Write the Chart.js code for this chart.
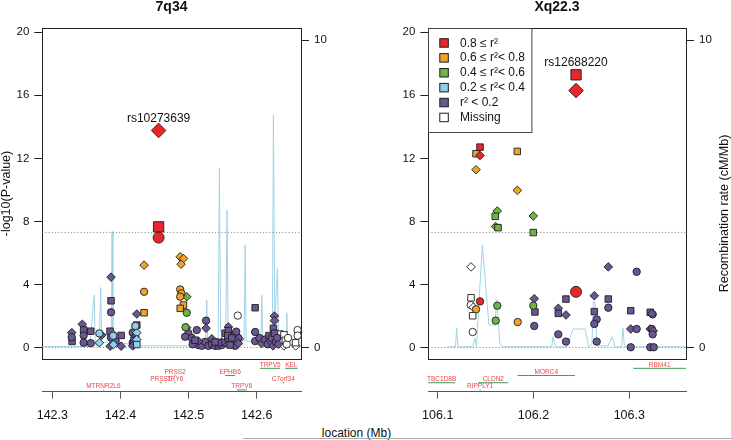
<!DOCTYPE html>
<html>
<head>
<meta charset="utf-8">
<script src="https://cdn.jsdelivr.net/npm/chart.js@4.4.1/dist/chart.umd.min.js"></script>
<style>
  html, body { margin: 0; padding: 0; background: #fff; }
  #wrap { position: relative; width: 731px; height: 440px; overflow: hidden;
    font-family: "Liberation Sans", Arial, sans-serif; }
  #cL { position: absolute; left: 0; top: 0; }
  #cR { position: absolute; left: 383px; top: 0; }
  #xlab { position: absolute; left: 296px; width: 121px; top: 426px; text-align: center;
    font-size: 12px; line-height: 14px; color: #111; }
  #rule { position: absolute; left: 243px; right: 0; top: 438px; height: 1px; background: #aaa; }
</style>
</head>
<body>
<div id="wrap">
  <canvas id="cL" width="343" height="425"></canvas>
  <canvas id="cR" width="348" height="425"></canvas>
  <div id="xlab">location (Mb)</div>
  <div id="rule"></div>
</div>
<script>
// LD classes: 0 missing, 1 r2<0.2, 2 0.2-0.4, 3 0.4-0.6, 4 0.6-0.8, 5 >=0.8
// shapes: c circle, s square, d diamond

// ---- 7q34 --------------------------------------------------------------
var L_X = [
  142.3285, 142.3290, 142.3285, 142.3440, 142.3460, 142.3460, 142.3460, 142.3564, 142.3564, 142.3690, 142.3690, 142.3725,
  142.3847, 142.3860, 142.3896, 142.3850, 142.3896, 142.4010, 142.4010, 142.3862, 142.3862, 142.3862, 142.3893, 142.3930,
  142.4180, 142.4180, 142.4240, 142.4240, 142.4240, 142.4220, 142.4240, 142.4240, 142.4200, 142.4220, 142.4180,
  142.4347, 142.4347, 142.4347, 142.4877, 142.4925, 142.4890, 142.4877, 142.4895, 142.4877, 142.4973, 142.4925, 142.4877, 142.4973, 142.4955, 142.4970,
  142.4997, 142.5047, 142.5095, 142.5144, 142.5194, 142.5060, 142.5242, 142.5291, 142.5341, 142.5389, 142.5438, 142.5487, 142.5536, 142.5584, 142.5634, 142.5683, 142.5731, 142.5257, 142.4949, 142.5120,
  142.5257, 142.5144, 142.5341, 142.5487, 142.5584, 142.5634, 142.5683, 142.5731, 142.5536, 142.5584, 142.5575, 142.5634, 142.5438, 142.5095, 142.5389, 142.5610, 142.5700,
  142.5722, 142.5745,
  142.5977, 142.5977, 142.5977, 142.6040, 142.6070, 142.6120, 142.6160, 142.6180, 142.6200, 142.6220, 142.6260, 142.6260, 142.6245, 142.6260, 142.6240, 142.6280, 142.6300, 142.6320,
  142.6340, 142.6370, 142.6400, 142.6360, 142.6400, 142.6420, 142.6440, 142.6574, 142.6570, 142.6600, 142.6600, 142.6460
];
var L_P = [
  0.94, 0.38, 0.65, 1.47, 1.11, 0.76, 0.30, 1.03, 0.27, 0.89, 0.30, 0.78,
  1.03, 0.63, 0.82, 0.08, 0.18, 0.76, 0.08, 4.46, 2.96, 2.23, 0.74, 0.40,
  0.94, 0.30, 2.12, 1.42, 0.94, 0.68, 0.50, 0.18, 0.45, 1.36, 0.10,
  5.22, 3.53, 2.20, 5.75, 5.64, 5.28, 3.68, 3.43, 3.22, 3.22, 2.69, 2.48, 2.20, 1.28, 1.25,
  0.90, 0.60, 0.30, 0.15, 0.10, 0.20, 0.35, 0.10, 0.20, 0.10, 0.10, 0.15, 0.30, 0.50, 0.20, 0.10, 0.60, 1.70, 0.68, 1.10,
  1.22, 0.40, 0.55, 0.35, 1.30, 0.80, 0.45, 0.25, 0.90, 1.05, 0.75, 0.60, 0.30, 0.45, 0.35, 0.15, 1.00,
  2.02, 0.55,
  2.52, 0.98, 0.40, 0.60, 0.25, 0.50, 0.20, 0.75, 0.40, 0.60, 1.99, 1.70, 1.21, 0.90, 0.10, 0.35, 0.60, 0.20,
  0.85, 0.55, 0.80, 0.30, 0.10, 0.45, 0.20, 0.10, 0.30, 1.10, 0.75, 0.60
];
var L_LD = [
  1, 1, 1, 1, 1, 1, 1, 1, 1, 2, 2, 1,
  1, 1, 2, 1, 2, 1, 1, 1, 1, 1, 2, 1,
  1, 1, 1, 1, 2, 1, 2, 2, 1, 2, 1,
  4, 4, 4, 4, 4, 4, 4, 4, 4, 3, 4, 4, 3, 3, 1,
  1, 1, 1, 1, 1, 1, 1, 1, 1, 1, 1, 1, 1, 1, 1, 1, 1, 1, 1, 1,
  1, 1, 1, 1, 1, 1, 1, 1, 1, 1, 1, 1, 1, 1, 1, 1, 1,
  0, 0,
  1, 1, 1, 1, 1, 1, 1, 1, 1, 1, 1, 1, 1, 1, 1, 1, 1, 1,
  0, 0, 0, 0, 0, 0, 0, 0, 0, 0, 0, 0
];
var L_SHAPE = [
  "d", "s", "c", "d", "s", "c", "c", "s", "c", "c", "d", "d",
  "s", "c", "d", "d", "d", "s", "d", "d", "s", "c", "c", "c",
  "c", "c", "d", "s", "d", "c", "d", "s", "s", "c", "d",
  "d", "c", "s", "d", "d", "d", "c", "c", "c", "d", "s", "s", "c", "c", "d",
  "c", "c", "c", "c", "c", "c", "c", "c", "c", "c", "c", "c", "c", "c", "c", "c", "c", "c", "c", "c",
  "d", "d", "d", "d", "d", "d", "d", "d", "s", "s", "s", "s", "s", "s", "s", "s", "c",
  "c", "d",
  "s", "c", "c", "c", "d", "c", "c", "s", "d", "c", "d", "d", "s", "s", "d", "c", "c", "d",
  "s", "s", "s", "d", "d", "s", "c", "d", "s", "c", "c", "c"
];
var L_LEAD_X = [142.456, 142.456, 142.456];
var L_LEAD_P = [13.77, 7.65, 6.97];
var L_LEAD_SHAPE = ["d", "s", "c"];
var L_LEAD_NAME = "rs10273639";
var L_REC_X = [142.2853, 142.3550, 142.3615, 142.3630, 142.3690, 142.3710, 142.3725, 142.3865, 142.3877, 142.3890,
  142.4140, 142.4160, 142.4180, 142.5250, 142.5267, 142.5280, 142.5435, 142.5452, 142.5470, 142.5545,
  142.5565, 142.5580, 142.5815, 142.5830, 142.5845, 142.6060, 142.6075, 142.6090, 142.6230, 142.6245,
  142.6265, 142.6304, 142.6320, 142.6432, 142.6442, 142.6455, 142.6650];
var L_REC_R = [0.03, 0.03, 1.71, 0.05, 0.10, 1.95, 0.15, 0.20, 3.77, 0.20,
  0.10, 0.80, 0.05, 0.05, 1.54, 0.10, 0.20, 5.83, 0.50, 0.40,
  4.47, 0.30, 0.20, 3.34, 0.20, 0.20, 1.70, 0.20, 0.40, 7.56,
  0.80, 2.57, 0.30, 0.10, 1.13, 0.10, 0.05];
var L_GENE = ["TRPV5", "KEL", "PRSS2", "EPHB6", "PRSS1", "TRY6", "C7orf34", "MTRNR2L6", "TRPV6"];
var L_GSTART = [142.6050, 142.6417, 142.4795, 142.5536, 142.4580, 142.4795, 142.6375, 142.3743, 142.5708];
var L_GEND = [142.6344, 142.6598, 142.4810, 142.5683, 142.4605, 142.4810, 142.6405, 142.3755, 142.5855];
var L_GROW = [1, 1, 2, 2, 3, 3, 3, 4, 4];
var L_XTICKS = [142.3, 142.4, 142.5, 142.6];

// ---- Xq22.3 ------------------------------------------------------------
var R_X = [
  106.1442, 106.1400, 106.1442, 106.1831, 106.1400, 106.1831, 106.1622, 106.1601, 106.1998, 106.1605, 106.1630, 106.1998,
  106.1348, 106.1348, 106.1442, 106.1345, 106.1400, 106.1365, 106.1365, 106.1622, 106.1605, 106.1835, 106.1998, 106.1372,
  106.2008, 106.2015, 106.2008, 106.2259, 106.2259, 106.2339, 106.2339, 106.2259, 106.2339, 106.2635,
  106.2635, 106.2660, 106.2635, 106.2660, 106.2781, 106.2781, 106.2781, 106.3077, 106.3015, 106.3015,
  106.3077, 106.3015, 106.3219, 106.3244, 106.3235, 106.3219, 106.3235, 106.3250, 106.3244, 106.3219, 106.3255
];
var R_P = [
  12.71, 12.29, 12.18, 12.44, 11.28, 9.97, 8.66, 8.32, 8.34, 7.67, 7.60, 7.29,
  5.11, 3.15, 2.92, 2.69, 2.42, 2.01, 0.98, 2.65, 1.70, 1.61, 2.65, 2.55,
  3.09, 2.25, 1.36, 2.48, 2.16, 2.06, 3.07, 0.83, 0.37, 3.28,
  2.27, 1.78, 1.49, 0.37, 5.11, 3.07, 2.52, 4.80, 2.33, 1.17,
  1.17, 0.01, 2.23, 2.10, 2.15, 1.17, 1.17, 1.05, 0.83, 0.01, 0.01
];
var R_LD = [
  5, 4, 5, 4, 4, 4, 3, 3, 3, 3, 3, 3,
  0, 0, 5, 0, 4, 0, 0, 3, 3, 4, 3, 0,
  1, 1, 1, 1, 1, 1, 1, 1, 1, 1,
  1, 1, 1, 1, 1, 1, 1, 1, 1, 1,
  1, 1, 1, 1, 1, 1, 1, 1, 1, 1, 1
];
var R_SHAPE = [
  "s", "s", "d", "s", "d", "d", "d", "s", "d", "d", "s", "s",
  "d", "s", "c", "c", "c", "s", "c", "c", "c", "c", "c", "d",
  "d", "s", "c", "d", "s", "d", "s", "c", "c", "d",
  "s", "c", "c", "c", "d", "s", "c", "c", "s", "d",
  "c", "c", "s", "c", "d", "d", "c", "d", "c", "c", "c"
];
var R_LEAD_X = [106.2444, 106.2444, 106.2444];
var R_LEAD_P = [17.3, 16.3, 3.53];
var R_LEAD_SHAPE = ["s", "d", "c"];
var R_LEAD_NAME = "rs12688220";
var R_REC_X = [106.1097, 106.1185, 106.1198, 106.1212, 106.1365, 106.1390, 106.1405, 106.1466, 106.1535, 106.1598,
  106.1616, 106.1650, 106.1680, 106.2190, 106.2204, 106.2230, 106.2350, 106.2413, 106.2540, 106.2575,
  106.2610, 106.2625, 106.2642, 106.2660, 106.2780, 106.2820, 106.2850, 106.2920, 106.2934, 106.2950, 106.3592];
var R_REC_R = [0.02, 0.02, 0.63, 0.02, 0.02, 0.30, 0.02, 3.34, 0.73, 0.73,
  1.55, 0.10, 0.02, 0.02, 0.35, 0.02, 0.02, 0.60, 0.60, 0.02,
  0.10, 1.49, 1.49, 0.05, 0.05, 0.35, 0.02, 0.02, 0.63, 0.02, 0.02];
var R_GENE = ["RBM41", "MORC4", "TBC1D8B", "CLDN2", "RIPPLY1"];
var R_GSTART = [106.3042, 106.1835, 106.0880, 106.1424, 106.1436];
var R_GEND = [106.3700, 106.2433, 106.1181, 106.1737, 106.1450];
var R_GROW = [1, 2, 3, 3, 4];
var R_XTICKS = [106.1, 106.2, 106.3];

// ---- shared ------------------------------------------------------------
var LD_COLORS = ["#ffffff", "#6b5593", "#8fd0ea", "#6cb545", "#f0a32b", "#e8262b"];
var LEGEND_LD = [5, 4, 3, 2, 1, 0];
var LEGEND_TEXT = ["0.8 \u2264 r\u00b2", "0.6 \u2264 r\u00b2< 0.8", "0.4 \u2264 r\u00b2< 0.6",
  "0.2 \u2264 r\u00b2< 0.4", "r\u00b2 < 0.2", "Missing"];
var Y_TICKS = [0, 4, 8, 12, 16, 20];
var REC_TICKS = [0, 10];
var SIG_P = 7.3;

var FONT = "'Liberation Sans', Arial, Helvetica, sans-serif";
Chart.defaults.font.family = FONT;
var Y_MIN = -2.81, Y_MAX = 20.29, BOX_BOTTOM = -0.755, REC_SCALE = 1.949;
var STYLE = { c: "circle", s: "rect", d: "rectRot" };
var SIZE = { c: 3.7, s: 4.6, d: 4.3 };
var LEAD_SIZE = { c: 5.5, s: 7.3, d: 7.3 };
var EDGE = "#1e1e1e";

function rowY(row) { return -1.327 - 0.457 * (row - 1); }

function makePanel(id, P) {
  // points sorted so higher-LD classes are drawn on top
  var idx = P.x.map(function (_, i) { return i; })
    .sort(function (a, b) { return (P.ld[a] - P.ld[b]) || (a - b); });
  var snps = {
    data: idx.map(function (i) { return { x: P.x[i], y: P.p[i] }; }),
    pointStyle: idx.map(function (i) { return STYLE[P.shape[i]]; }),
    pointRadius: idx.map(function (i) { return SIZE[P.shape[i]]; }),
    pointBackgroundColor: idx.map(function (i) { return LD_COLORS[P.ld[i]]; }),
    pointBorderColor: EDGE, pointBorderWidth: 0.9, showLine: false, clip: false, order: 1
  };
  var lead = {
    data: P.leadX.map(function (x, i) { return { x: x, y: P.leadP[i] }; }),
    pointStyle: P.leadShape.map(function (s) { return STYLE[s]; }),
    pointRadius: P.leadShape.map(function (s) { return LEAD_SIZE[s]; }),
    pointBackgroundColor: LD_COLORS[5], pointBorderColor: EDGE, pointBorderWidth: 0.9,
    showLine: false, clip: false, order: 0
  };
  function hline(v) {
    return { data: [{ x: P.xmin, y: v }, { x: P.xmax, y: v }], showLine: true,
      borderColor: "#7a7a7a", borderWidth: 1, borderDash: [1, 2.2], pointRadius: 0, order: 3 };
  }
  var rec = {
    data: P.recX.map(function (x, i) { return { x: x, y: P.recR[i] }; }),
    yAxisID: "y2", showLine: true, borderColor: "#a3d3e6", borderWidth: 1,
    pointRadius: 0, order: 4
  };
  var genes = P.gene.map(function (g, i) {
    return { data: [{ x: P.gs[i], y: rowY(P.grow[i]) }, { x: P.ge[i], y: rowY(P.grow[i]) }],
      showLine: true, borderColor: "#3d9a58", borderWidth: 1, pointRadius: 0, order: 2 };
  });

  var deco = {
    id: "deco",
    beforeDatasetsDraw: function (chart) {
      var a = chart.chartArea, ys = chart.scales.y, ctx = chart.ctx;
      var l = Math.round(a.left) + 0.5, r = Math.round(a.right) + 0.5;
      var t = Math.round(a.top) + 0.5, b = Math.round(ys.getPixelForValue(BOX_BOTTOM)) + 0.5;
      ctx.save();
      ctx.strokeStyle = "#222"; ctx.lineWidth = 1;
      ctx.strokeRect(l, t, r - l, b - t);
      ctx.restore();
    },
    afterDatasetsDraw: function (chart) {
      var a = chart.chartArea, xs = chart.scales.x, ys = chart.scales.y, ctx = chart.ctx;
      ctx.save();
      // gene names
      ctx.font = "6.5px " + FONT; ctx.fillStyle = "#e8474a";
      ctx.textAlign = "center"; ctx.textBaseline = "middle";
      P.gene.forEach(function (g, i) {
        var s = Math.max(P.gs[i], P.xmin), e = Math.min(P.ge[i], P.xmax);
        ctx.fillText(g, xs.getPixelForValue((s + e) / 2), ys.getPixelForValue(rowY(P.grow[i])) - 3.4);
      });
      // lead SNP name
      ctx.font = "12px " + FONT; ctx.fillStyle = "#111";
      ctx.fillText(P.leadName, xs.getPixelForValue(P.leadX[0]),
        ys.getPixelForValue(Math.max.apply(null, P.leadP)) - 12);
      // axis titles (bottom-to-top)
      ctx.font = "12.5px " + FONT;
      if (P.leftTitle) {
        ctx.save();
        ctx.translate(6.7, (a.top + ys.getPixelForValue(BOX_BOTTOM)) / 2);
        ctx.rotate(-Math.PI / 2);
        ctx.fillText(P.leftTitle, 0, 0);
        ctx.restore();
      }
      if (P.rightTitle) {
        ctx.save();
        ctx.translate(chart.width - 6.5, (a.top + a.bottom) / 2 + 3.8);
        ctx.rotate(-Math.PI / 2);
        ctx.fillText(P.rightTitle, 0, 0);
        ctx.restore();
      }
      // LD legend
      if (P.legend) {
        var lx = Math.round(a.left) + 0.5, ty = Math.round(a.top) + 0.5;
        ctx.fillStyle = "#fff"; ctx.strokeStyle = "#444"; ctx.lineWidth = 1;
        ctx.fillRect(lx, ty, 103.4, 104);
        ctx.strokeRect(lx, ty, 103.4, 104);
        ctx.font = "12px " + FONT; ctx.textAlign = "left";
        LEGEND_LD.forEach(function (ld, i) {
          var cy = a.top + 15 + 14.9 * i;
          ctx.fillStyle = LD_COLORS[ld]; ctx.strokeStyle = EDGE;
          ctx.fillRect(a.left + 11.5, cy - 4, 8.5, 8.5);
          ctx.strokeRect(a.left + 11.5, cy - 4, 8.5, 8.5);
          ctx.fillStyle = "#111";
          ctx.fillText(LEGEND_TEXT[i], a.left + 31.7, cy + 0.5);
        });
      }
      ctx.restore();
    }
  };

  return new Chart(document.getElementById(id), {
    type: "scatter",
    data: { datasets: [lead, snps, hline(SIG_P), hline(0), rec].concat(genes) },
    options: {
      responsive: false, animation: false, events: [],
      layout: { padding: 0 },
      plugins: {
        legend: { display: false }, tooltip: { enabled: false },
        title: { display: true, text: P.title, color: "#111",
          font: { size: 14, weight: "bold", lineHeight: 1 }, padding: { top: 0, bottom: 13.7 } }
      },
      scales: {
        x: {
          type: "linear", position: "bottom", min: P.xmin, max: P.xmax,
          afterBuildTicks: function (s) { s.ticks = P.xticks.map(function (v) { return { value: v }; }); },
          afterFit: function (s) { s.height = 425 - 391.7; },
          grid: { display: true, drawOnChartArea: false, drawTicks: true, tickLength: 7, color: "#555" },
          border: { display: true, color: "#555", width: 1 },
          ticks: { padding: 9, color: "#111", font: { size: 12.5 }, maxRotation: 0,
            callback: function (v) { return v.toFixed(1); } }
        },
        y: {
          type: "linear", position: "left", min: Y_MIN, max: Y_MAX,
          afterBuildTicks: function (s) { s.ticks = Y_TICKS.map(function (v) { return { value: v }; }); },
          afterFit: function (s) { s.width = P.yw; },
          grid: { display: true, drawOnChartArea: false, drawTicks: true, tickLength: 8, color: "#222" },
          border: { display: false },
          ticks: { padding: 5, color: "#111", font: { size: 11.5 },
            callback: function (v) { return String(v); } }
        },
        y2: {
          type: "linear", position: "right", min: Y_MIN / REC_SCALE, max: Y_MAX / REC_SCALE,
          afterBuildTicks: function (s) { s.ticks = REC_TICKS.map(function (v) { return { value: v }; }); },
          afterFit: function (s) { s.width = P.y2w; },
          grid: { display: true, drawOnChartArea: false, drawTicks: true, tickLength: 8, color: "#222" },
          border: { display: false },
          ticks: { padding: 5, color: "#111", font: { size: 11.5 },
            callback: function (v) { return String(v); } }
        }
      }
    },
    plugins: [deco]
  });
}

makePanel("cL", {
  title: "7q34", x: L_X, p: L_P, ld: L_LD, shape: L_SHAPE,
  leadX: L_LEAD_X, leadP: L_LEAD_P, leadShape: L_LEAD_SHAPE, leadName: L_LEAD_NAME,
  recX: L_REC_X, recR: L_REC_R, gene: L_GENE, gs: L_GSTART, ge: L_GEND, grow: L_GROW,
  xticks: L_XTICKS, xmin: 142.2853, xmax: 142.665, yw: 42.3, y2w: 42,
  leftTitle: "-log10(P-value)", rightTitle: null, legend: false
});
makePanel("cR", {
  title: "Xq22.3", x: R_X, p: R_P, ld: R_LD, shape: R_SHAPE,
  leadX: R_LEAD_X, leadP: R_LEAD_P, leadShape: R_LEAD_SHAPE, leadName: R_LEAD_NAME,
  recX: R_REC_X, recR: R_REC_R, gene: R_GENE, gs: R_GSTART, ge: R_GEND, grow: R_GROW,
  xticks: R_XTICKS, xmin: 106.0902, xmax: 106.3592, yw: 45.3, y2w: 45,
  leftTitle: null, rightTitle: "Recombination rate (cM/Mb)", legend: true
});
</script>
</body>
</html>
